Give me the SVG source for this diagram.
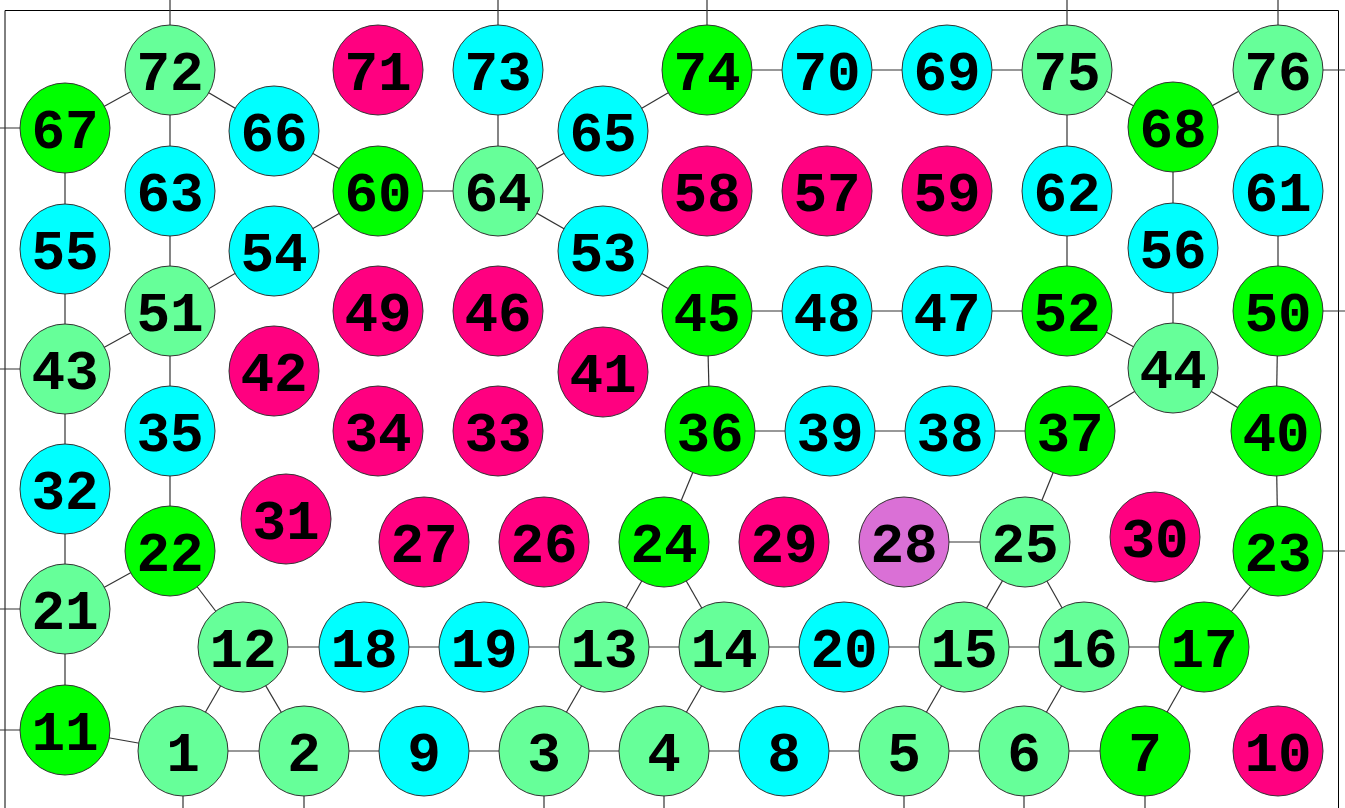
<svg xmlns="http://www.w3.org/2000/svg" width="1345" height="808" viewBox="0 0 1345 808">
<style>
.e line{stroke:#333;stroke-width:1.2}
circle{stroke:#333;stroke-width:1}
.m{fill:#66ff99}.g{fill:#00ff00}.c{fill:#00ffff}.p{fill:#ff0080}.o{fill:#da70d6}
text{font-family:"Liberation Mono","Courier New",monospace;font-weight:bold;font-size:56px;fill:#000;text-anchor:middle}
</style>
<rect x="0" y="0" width="1345" height="808" fill="#fff"/>
<path d="M5 900 V10.5 H1338.5 V900" fill="none" stroke="#000" stroke-width="1"/>
<g class="e">
<line x1="170" y1="70" x2="170" y2="0"/>
<line x1="498" y1="70" x2="498" y2="0"/>
<line x1="707" y1="70" x2="707" y2="0"/>
<line x1="1067" y1="70" x2="1067" y2="0"/>
<line x1="1278" y1="70" x2="1278" y2="0"/>
<line x1="65" y1="128" x2="0" y2="128"/>
<line x1="65" y1="369" x2="0" y2="369"/>
<line x1="65" y1="609" x2="0" y2="609"/>
<line x1="65" y1="730" x2="0" y2="730"/>
<line x1="1278" y1="70" x2="1345" y2="70"/>
<line x1="1278" y1="311" x2="1345" y2="311"/>
<line x1="1278" y1="551" x2="1345" y2="551"/>
<line x1="183" y1="751" x2="183" y2="808"/>
<line x1="304" y1="751" x2="304" y2="808"/>
<line x1="544" y1="751" x2="544" y2="808"/>
<line x1="664" y1="751" x2="664" y2="808"/>
<line x1="904" y1="751" x2="904" y2="808"/>
<line x1="1024" y1="751" x2="1024" y2="808"/>
<line x1="1145" y1="751" x2="1145" y2="808"/>
<line x1="170" y1="70" x2="65" y2="128"/>
<line x1="170" y1="70" x2="274" y2="131"/>
<line x1="170" y1="70" x2="170" y2="191"/>
<line x1="65" y1="128" x2="65" y2="249"/>
<line x1="274" y1="131" x2="378" y2="191"/>
<line x1="170" y1="191" x2="170" y2="311"/>
<line x1="378" y1="191" x2="498" y2="191"/>
<line x1="378" y1="191" x2="274" y2="251"/>
<line x1="498" y1="191" x2="498" y2="70"/>
<line x1="498" y1="191" x2="603" y2="131"/>
<line x1="498" y1="191" x2="603" y2="251"/>
<line x1="603" y1="131" x2="707" y2="70"/>
<line x1="707" y1="70" x2="827" y2="70"/>
<line x1="827" y1="70" x2="947" y2="70"/>
<line x1="947" y1="70" x2="1067" y2="70"/>
<line x1="1067" y1="70" x2="1173" y2="127"/>
<line x1="1067" y1="70" x2="1067" y2="191"/>
<line x1="1173" y1="127" x2="1278" y2="70"/>
<line x1="1173" y1="127" x2="1173" y2="248"/>
<line x1="1278" y1="70" x2="1278" y2="191"/>
<line x1="1278" y1="191" x2="1278" y2="311"/>
<line x1="1067" y1="191" x2="1067" y2="311"/>
<line x1="1173" y1="248" x2="1173" y2="368"/>
<line x1="65" y1="249" x2="65" y2="369"/>
<line x1="274" y1="251" x2="170" y2="311"/>
<line x1="170" y1="311" x2="65" y2="369"/>
<line x1="170" y1="311" x2="170" y2="431"/>
<line x1="603" y1="251" x2="707" y2="311"/>
<line x1="707" y1="311" x2="827" y2="311"/>
<line x1="707" y1="311" x2="710" y2="431"/>
<line x1="827" y1="311" x2="947" y2="311"/>
<line x1="947" y1="311" x2="1067" y2="311"/>
<line x1="1067" y1="311" x2="1173" y2="368"/>
<line x1="1173" y1="368" x2="1070" y2="431"/>
<line x1="1173" y1="368" x2="1276" y2="431"/>
<line x1="1278" y1="311" x2="1276" y2="431"/>
<line x1="65" y1="369" x2="65" y2="489"/>
<line x1="170" y1="431" x2="170" y2="551"/>
<line x1="710" y1="431" x2="830" y2="431"/>
<line x1="710" y1="431" x2="664" y2="542"/>
<line x1="830" y1="431" x2="950" y2="431"/>
<line x1="950" y1="431" x2="1070" y2="431"/>
<line x1="1070" y1="431" x2="1025" y2="542"/>
<line x1="1276" y1="431" x2="1278" y2="551"/>
<line x1="65" y1="489" x2="65" y2="609"/>
<line x1="170" y1="551" x2="65" y2="609"/>
<line x1="170" y1="551" x2="243" y2="647"/>
<line x1="65" y1="609" x2="65" y2="730"/>
<line x1="664" y1="542" x2="604" y2="647"/>
<line x1="664" y1="542" x2="724" y2="647"/>
<line x1="904" y1="542" x2="1025" y2="542"/>
<line x1="1025" y1="542" x2="964" y2="647"/>
<line x1="1025" y1="542" x2="1084" y2="647"/>
<line x1="1278" y1="551" x2="1204" y2="647"/>
<line x1="243" y1="647" x2="364" y2="647"/>
<line x1="243" y1="647" x2="183" y2="751"/>
<line x1="243" y1="647" x2="304" y2="751"/>
<line x1="364" y1="647" x2="484" y2="647"/>
<line x1="484" y1="647" x2="604" y2="647"/>
<line x1="604" y1="647" x2="724" y2="647"/>
<line x1="724" y1="647" x2="844" y2="647"/>
<line x1="844" y1="647" x2="964" y2="647"/>
<line x1="964" y1="647" x2="1084" y2="647"/>
<line x1="1084" y1="647" x2="1204" y2="647"/>
<line x1="604" y1="647" x2="544" y2="751"/>
<line x1="724" y1="647" x2="664" y2="751"/>
<line x1="964" y1="647" x2="904" y2="751"/>
<line x1="1084" y1="647" x2="1024" y2="751"/>
<line x1="1204" y1="647" x2="1145" y2="751"/>
<line x1="65" y1="730" x2="183" y2="751"/>
<line x1="183" y1="751" x2="304" y2="751"/>
<line x1="304" y1="751" x2="424" y2="751"/>
<line x1="424" y1="751" x2="544" y2="751"/>
<line x1="544" y1="751" x2="664" y2="751"/>
<line x1="664" y1="751" x2="784" y2="751"/>
<line x1="784" y1="751" x2="904" y2="751"/>
<line x1="904" y1="751" x2="1024" y2="751"/>
<line x1="1024" y1="751" x2="1145" y2="751"/>
</g>
<g id="n72"><circle class="m" cx="170" cy="70" r="45"/><text x="170" y="90">72</text></g>
<g id="n71"><circle class="p" cx="378" cy="70" r="45"/><text x="378" y="90">71</text></g>
<g id="n73"><circle class="c" cx="498" cy="70" r="45"/><text x="498" y="90">73</text></g>
<g id="n74"><circle class="g" cx="707" cy="70" r="45"/><text x="707" y="90">74</text></g>
<g id="n70"><circle class="c" cx="827" cy="70" r="45"/><text x="827" y="90">70</text></g>
<g id="n69"><circle class="c" cx="947" cy="70" r="45"/><text x="947" y="90">69</text></g>
<g id="n75"><circle class="m" cx="1067" cy="70" r="45"/><text x="1067" y="90">75</text></g>
<g id="n76"><circle class="m" cx="1278" cy="70" r="45"/><text x="1278" y="90">76</text></g>
<g id="n67"><circle class="g" cx="65" cy="128" r="45"/><text x="65" y="148">67</text></g>
<g id="n66"><circle class="c" cx="274" cy="131" r="45"/><text x="274" y="151">66</text></g>
<g id="n65"><circle class="c" cx="603" cy="131" r="45"/><text x="603" y="151">65</text></g>
<g id="n68"><circle class="g" cx="1173" cy="127" r="45"/><text x="1173" y="147">68</text></g>
<g id="n63"><circle class="c" cx="170" cy="191" r="45"/><text x="170" y="211">63</text></g>
<g id="n60"><circle class="g" cx="378" cy="191" r="45"/><text x="378" y="211">60</text></g>
<g id="n64"><circle class="m" cx="498" cy="191" r="45"/><text x="498" y="211">64</text></g>
<g id="n58"><circle class="p" cx="707" cy="191" r="45"/><text x="707" y="211">58</text></g>
<g id="n57"><circle class="p" cx="827" cy="191" r="45"/><text x="827" y="211">57</text></g>
<g id="n59"><circle class="p" cx="947" cy="191" r="45"/><text x="947" y="211">59</text></g>
<g id="n62"><circle class="c" cx="1067" cy="191" r="45"/><text x="1067" y="211">62</text></g>
<g id="n61"><circle class="c" cx="1278" cy="191" r="45"/><text x="1278" y="211">61</text></g>
<g id="n55"><circle class="c" cx="65" cy="249" r="45"/><text x="65" y="269">55</text></g>
<g id="n54"><circle class="c" cx="274" cy="251" r="45"/><text x="274" y="271">54</text></g>
<g id="n53"><circle class="c" cx="603" cy="251" r="45"/><text x="603" y="271">53</text></g>
<g id="n56"><circle class="c" cx="1173" cy="248" r="45"/><text x="1173" y="268">56</text></g>
<g id="n51"><circle class="m" cx="170" cy="311" r="45"/><text x="170" y="331">51</text></g>
<g id="n49"><circle class="p" cx="378" cy="311" r="45"/><text x="378" y="331">49</text></g>
<g id="n46"><circle class="p" cx="498" cy="311" r="45"/><text x="498" y="331">46</text></g>
<g id="n45"><circle class="g" cx="707" cy="311" r="45"/><text x="707" y="331">45</text></g>
<g id="n48"><circle class="c" cx="827" cy="311" r="45"/><text x="827" y="331">48</text></g>
<g id="n47"><circle class="c" cx="947" cy="311" r="45"/><text x="947" y="331">47</text></g>
<g id="n52"><circle class="g" cx="1067" cy="311" r="45"/><text x="1067" y="331">52</text></g>
<g id="n50"><circle class="g" cx="1278" cy="311" r="45"/><text x="1278" y="331">50</text></g>
<g id="n43"><circle class="m" cx="65" cy="369" r="45"/><text x="65" y="389">43</text></g>
<g id="n42"><circle class="p" cx="274" cy="371" r="45"/><text x="274" y="391">42</text></g>
<g id="n41"><circle class="p" cx="603" cy="372" r="45"/><text x="603" y="392">41</text></g>
<g id="n44"><circle class="m" cx="1173" cy="368" r="45"/><text x="1173" y="388">44</text></g>
<g id="n35"><circle class="c" cx="170" cy="431" r="45"/><text x="170" y="451">35</text></g>
<g id="n34"><circle class="p" cx="378" cy="431" r="45"/><text x="378" y="451">34</text></g>
<g id="n33"><circle class="p" cx="498" cy="431" r="45"/><text x="498" y="451">33</text></g>
<g id="n36"><circle class="g" cx="710" cy="431" r="45"/><text x="710" y="451">36</text></g>
<g id="n39"><circle class="c" cx="830" cy="431" r="45"/><text x="830" y="451">39</text></g>
<g id="n38"><circle class="c" cx="950" cy="431" r="45"/><text x="950" y="451">38</text></g>
<g id="n37"><circle class="g" cx="1070" cy="431" r="45"/><text x="1070" y="451">37</text></g>
<g id="n40"><circle class="g" cx="1276" cy="431" r="45"/><text x="1276" y="451">40</text></g>
<g id="n32"><circle class="c" cx="65" cy="489" r="45"/><text x="65" y="509">32</text></g>
<g id="n31"><circle class="p" cx="286" cy="519" r="45"/><text x="286" y="539">31</text></g>
<g id="n22"><circle class="g" cx="170" cy="551" r="45"/><text x="170" y="571">22</text></g>
<g id="n27"><circle class="p" cx="424" cy="542" r="45"/><text x="424" y="562">27</text></g>
<g id="n26"><circle class="p" cx="544" cy="542" r="45"/><text x="544" y="562">26</text></g>
<g id="n24"><circle class="g" cx="664" cy="542" r="45"/><text x="664" y="562">24</text></g>
<g id="n29"><circle class="p" cx="784" cy="542" r="45"/><text x="784" y="562">29</text></g>
<g id="n28"><circle class="o" cx="904" cy="542" r="45"/><text x="904" y="562">28</text></g>
<g id="n25"><circle class="m" cx="1025" cy="542" r="45"/><text x="1025" y="562">25</text></g>
<g id="n30"><circle class="p" cx="1155" cy="537" r="45"/><text x="1155" y="557">30</text></g>
<g id="n23"><circle class="g" cx="1278" cy="551" r="45"/><text x="1278" y="571">23</text></g>
<g id="n21"><circle class="m" cx="65" cy="609" r="45"/><text x="65" y="629">21</text></g>
<g id="n12"><circle class="m" cx="243" cy="647" r="45"/><text x="243" y="667">12</text></g>
<g id="n18"><circle class="c" cx="364" cy="647" r="45"/><text x="364" y="667">18</text></g>
<g id="n19"><circle class="c" cx="484" cy="647" r="45"/><text x="484" y="667">19</text></g>
<g id="n13"><circle class="m" cx="604" cy="647" r="45"/><text x="604" y="667">13</text></g>
<g id="n14"><circle class="m" cx="724" cy="647" r="45"/><text x="724" y="667">14</text></g>
<g id="n20"><circle class="c" cx="844" cy="647" r="45"/><text x="844" y="667">20</text></g>
<g id="n15"><circle class="m" cx="964" cy="647" r="45"/><text x="964" y="667">15</text></g>
<g id="n16"><circle class="m" cx="1084" cy="647" r="45"/><text x="1084" y="667">16</text></g>
<g id="n17"><circle class="g" cx="1204" cy="647" r="45"/><text x="1204" y="667">17</text></g>
<g id="n11"><circle class="g" cx="65" cy="730" r="45"/><text x="65" y="750">11</text></g>
<g id="n1"><circle class="m" cx="183" cy="751" r="45"/><text x="183" y="771">1</text></g>
<g id="n2"><circle class="m" cx="304" cy="751" r="45"/><text x="304" y="771">2</text></g>
<g id="n9"><circle class="c" cx="424" cy="751" r="45"/><text x="424" y="771">9</text></g>
<g id="n3"><circle class="m" cx="544" cy="751" r="45"/><text x="544" y="771">3</text></g>
<g id="n4"><circle class="m" cx="664" cy="751" r="45"/><text x="664" y="771">4</text></g>
<g id="n8"><circle class="c" cx="784" cy="751" r="45"/><text x="784" y="771">8</text></g>
<g id="n5"><circle class="m" cx="904" cy="751" r="45"/><text x="904" y="771">5</text></g>
<g id="n6"><circle class="m" cx="1024" cy="751" r="45"/><text x="1024" y="771">6</text></g>
<g id="n7"><circle class="g" cx="1145" cy="751" r="45"/><text x="1145" y="771">7</text></g>
<g id="n10"><circle class="p" cx="1278" cy="751" r="45"/><text x="1278" y="771">10</text></g>
</svg>
